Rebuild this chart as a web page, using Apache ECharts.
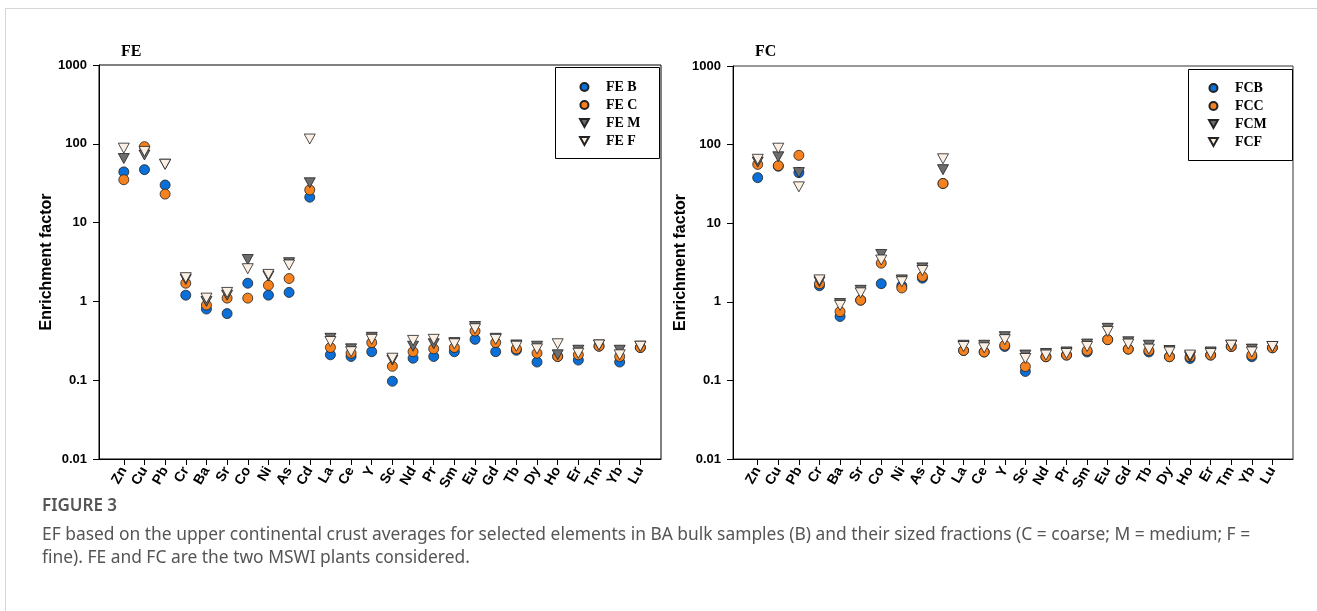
<!DOCTYPE html>
<html>
<head>
<meta charset="utf-8">
<script src="https://cdn.jsdelivr.net/npm/echarts@6/dist/echarts.min.js"></script>
<style>
  html, body { margin: 0; padding: 0; background: #fff; }
  #chart { width: 1317px; height: 611px; }
</style>
</head>
<body>
<div id="chart"></div>
<script>
// element order along the x axis
const elements = ['Zn','Cu','Pb','Cr','Ba','Sr','Co','Ni','As','Cd','La','Ce','Y','Sc','Nd','Pr','Sm','Eu','Gd','Tb','Dy','Ho','Er','Tm','Yb','Lu'];

// FE plant: bulk (B), coarse (C), medium (M), fine (F)
const feB = [44, 47, 30, 1.2, 0.8, 0.7, 1.7, 1.2, 1.3, 21, 0.21, 0.2, 0.23, 0.097, 0.19, 0.2, 0.23, 0.33, 0.23, 0.24, 0.17, 0.2, 0.18, 0.27, 0.17, 0.26];
const feC = [35, 92, 23, 1.7, 0.9, 1.1, 1.1, 1.6, 1.95, 26, 0.26, 0.22, 0.3, 0.15, 0.23, 0.25, 0.26, 0.42, 0.3, 0.25, 0.22, 0.2, 0.21, 0.27, 0.2, 0.26];
const feM = [65, 72, 55, 1.9, 1.0, 1.2, 3.4, 2.1, 3.1, 32, 0.34, 0.25, 0.35, 0.18, 0.27, 0.29, 0.3, 0.48, 0.34, 0.28, 0.27, 0.21, 0.24, 0.28, 0.24, 0.27];
const feF = [88, 80, 55, 2.0, 1.1, 1.3, 2.6, 2.2, 2.9, 115, 0.31, 0.23, 0.33, 0.19, 0.32, 0.33, 0.29, 0.45, 0.33, 0.27, 0.25, 0.29, 0.22, 0.28, 0.21, 0.27];

// FC plant
const fcB = [38, 53, 44, 1.6, 0.65, 1.05, 1.7, 1.6, 2.0, 32, 0.24, 0.23, 0.27, 0.13, 0.2, 0.21, 0.23, 0.33, 0.25, 0.23, 0.2, 0.19, 0.21, 0.27, 0.2, 0.26];
const fcC = [56, 54, 73, 1.7, 0.75, 1.05, 3.1, 1.5, 2.1, 32, 0.24, 0.23, 0.28, 0.15, 0.2, 0.21, 0.24, 0.33, 0.25, 0.24, 0.2, 0.2, 0.21, 0.27, 0.21, 0.26];
const fcM = [60, 70, 44, 1.8, 0.95, 1.4, 4.0, 1.9, 2.7, 48, 0.28, 0.28, 0.36, 0.21, 0.22, 0.23, 0.29, 0.46, 0.31, 0.28, 0.24, 0.2, 0.23, 0.28, 0.25, 0.27];
const fcF = [65, 90, 29, 1.9, 0.9, 1.3, 3.4, 1.8, 2.5, 66, 0.27, 0.26, 0.33, 0.19, 0.21, 0.22, 0.27, 0.42, 0.29, 0.25, 0.23, 0.21, 0.22, 0.28, 0.23, 0.27];

const yTicks = [0.01, 0.1, 1, 10, 100, 1000];

const SANS = '"Liberation Sans", Arial, sans-serif';
const SERIF = '"Liberation Serif", "Times New Roman", serif';
const CAP = '"Noto Sans", sans-serif';
const TRI_DOWN = 'path://M0,0 L10,0 L5,9 Z';

const styles = [
  { symbol: 'circle', size: 10, color: '#0b6fd8' },
  { symbol: 'circle', size: 10, color: '#f5821f' },
  { symbol: TRI_DOWN, size: [11, 10], color: '#6d6d6d' },
  { symbol: TRI_DOWN, size: [11, 10], color: '#fcefe4' },
];

const idx = elements.map((_, i) => i);

function scatter(name, values, k, gi) {
  const st = styles[k];
  return {
    name, type: 'scatter', xAxisIndex: gi, yAxisIndex: gi,
    symbol: st.symbol, symbolSize: st.size,
    itemStyle: { color: st.color, borderColor: '#222', borderWidth: 0.8, opacity: 1 },
    data: values.map((v, i) => [i, v]),
    z: 2 + k,
  };
}

function xAxis(gi) {
  return {
    type: 'value', gridIndex: gi, min: -1.2, max: 26,
    splitLine: { show: false },
    axisLine: { show: true, onZero: false, lineStyle: { color: '#000', width: 1 } },
    axisTick: { show: true, length: 6, customValues: idx, lineStyle: { color: '#000' } },
    axisLabel: {
      customValues: idx, rotate: 60, margin: 9,
      formatter: (v) => elements[Math.round(v)] || '',
      fontFamily: SANS, fontWeight: 'bold', fontSize: 14, color: '#000',
    },
  };
}

function yAxis(gi) {
  return {
    type: 'log', gridIndex: gi, min: 0.01, max: 1000, logBase: 10,
    name: 'Enrichment factor', nameLocation: 'middle', nameGap: 43,
    nameTextStyle: { fontFamily: SANS, fontWeight: 'bold', fontSize: 16, color: '#000' },
    splitLine: { show: false },
    minorTick: { show: false },
    axisLine: { show: true, onZero: false, lineStyle: { color: '#000', width: 1 } },
    axisTick: { show: true, length: 6, lineStyle: { color: '#000' } },
    axisLabel: {
      margin: 12, fontFamily: SANS, fontWeight: 'bold', fontSize: 13, color: '#000',
      formatter: (v) => {
        const t = yTicks.find((x) => Math.abs(Math.log10(x) - Math.log10(v)) < 1e-6);
        return t != null ? String(t) : '';
      },
    },
  };
}

function legend(names, left, top) {
  return {
    orient: 'vertical', left, top, data: names,
    itemWidth: 9, itemHeight: 8, itemGap: 4,
    textStyle: { fontFamily: SERIF, fontWeight: 'bold', fontSize: 14, color: '#000', padding: [0, 0, 0, 12] },
    selectedMode: false,
  };
}

const feNames = ['FE B', 'FE C', 'FE M', 'FE F'];
const fcNames = ['FCB', 'FCC', 'FCM', 'FCF'];

const chart = echarts.init(document.getElementById('chart'));
chart.setOption({
  animation: false,
  grid: [
    { left: 99, top: 65, width: 562, height: 394, show: true, borderColor: '#000', borderWidth: 1, containLabel: false },
    { left: 733, top: 66, width: 560, height: 393, show: true, borderColor: '#333', borderWidth: 1, containLabel: false },
  ],
  xAxis: [xAxis(0), xAxis(1)],
  yAxis: [yAxis(0), yAxis(1)],
  legend: [legend(feNames, 574, 75), legend(fcNames, 1203, 76)],
  series: [
    scatter(feNames[0], feB, 0, 0), scatter(feNames[1], feC, 1, 0),
    scatter(feNames[2], feM, 2, 0), scatter(feNames[3], feF, 3, 0),
    scatter(fcNames[0], fcB, 0, 1), scatter(fcNames[1], fcC, 1, 1),
    scatter(fcNames[2], fcM, 2, 1), scatter(fcNames[3], fcF, 3, 1),
  ],
  graphic: [
    // card border
    { type: 'line', shape: { x1: 5, y1: 8.5, x2: 1317, y2: 8.5 }, style: { stroke: '#d6d6d6', lineWidth: 1 } },
    { type: 'line', shape: { x1: 5.5, y1: 8, x2: 5.5, y2: 611 }, style: { stroke: '#d6d6d6', lineWidth: 1 } },
    // legend frames
    { type: 'rect', shape: { x: 555.5, y: 67.5, width: 104, height: 91 }, style: { fill: 'none', stroke: '#000', lineWidth: 1 }, z: 10 },
    { type: 'rect', shape: { x: 1188.5, y: 69.5, width: 104, height: 91 }, style: { fill: 'none', stroke: '#000', lineWidth: 1 }, z: 10 },
    // panel titles
    { type: 'text', left: 121, top: 44, style: { text: 'FE', font: 'bold 16px ' + SERIF, fill: '#000' } },
    { type: 'text', left: 755, top: 44, style: { text: 'FC', font: 'bold 16px ' + SERIF, fill: '#000' } },
    // caption
    { type: 'text', left: 42, top: 498, style: { text: 'FIGURE 3', font: '600 17px ' + CAP, fill: '#555' } },
    { type: 'text', left: 42, top: 527, style: { text: 'EF based on the upper continental crust averages for selected elements in BA bulk samples (B) and their sized fractions (C = coarse; M = medium; F =', font: '17.4px ' + CAP, fill: '#555' } },
    { type: 'text', left: 42, top: 550, style: { text: 'fine). FE and FC are the two MSWI plants considered.', font: '17.4px ' + CAP, fill: '#555' } },
  ],
});
</script>
</body>
</html>
